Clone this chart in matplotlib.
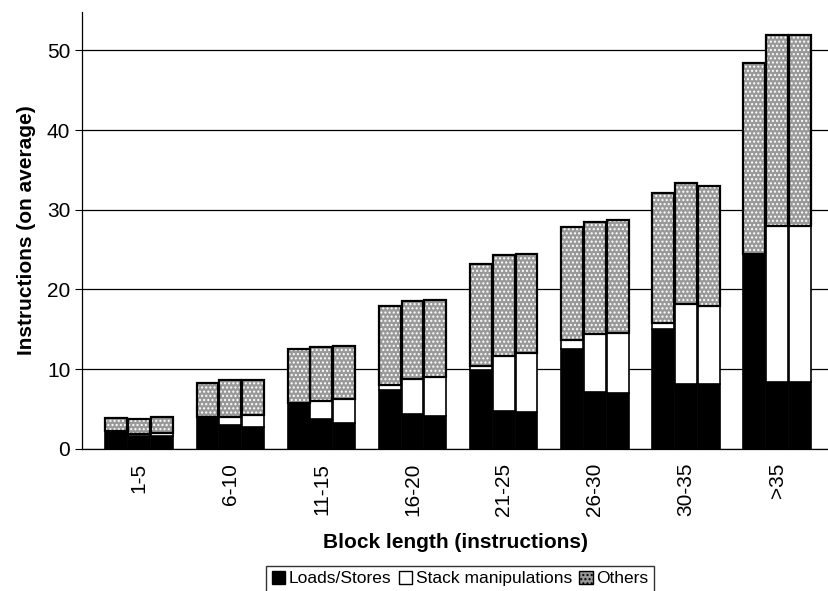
import matplotlib
matplotlib.use('Agg')
import matplotlib.pyplot as plt
from matplotlib.patches import Patch
import numpy as np

plt.rcParams.update({'font.family': ['Liberation Sans', 'DejaVu Sans']})

# block-length categories, three bars per category
categories = ['1-5', '6-10', '11-15', '16-20', '21-25', '26-30', '30-35', '>35']

loads = [[2.2, 1.6, 1.6], [4.0, 3.0, 2.8], [5.8, 3.7, 3.3], [7.4, 4.4, 4.1],
         [9.9, 4.8, 4.7], [12.5, 7.2, 7.0], [15.0, 8.2, 8.2], [24.5, 8.4, 8.4]]
stack = [[0.0, 0.3, 0.4], [0.0, 1.0, 1.5], [0.0, 2.3, 3.0], [0.6, 4.4, 4.9],
         [0.5, 6.8, 7.3], [1.2, 7.2, 7.6], [0.8, 10.0, 9.7], [0.0, 19.6, 19.6]]
others = [[1.7, 1.9, 2.0], [4.3, 4.6, 4.4], [6.8, 6.8, 6.6], [9.9, 9.7, 9.7],
          [12.8, 12.7, 12.5], [14.2, 14.1, 14.1], [16.3, 15.2, 15.1], [23.9, 23.9, 23.9]]

loads = np.array(loads)
stack = np.array(stack)
others = np.array(others)

GREY = '#999999'
fig = plt.figure(figsize=(8.29, 5.91), dpi=100)
ax = fig.add_axes([0.099, 0.2403, 0.901, 0.7394])

x = np.arange(len(categories))
width = 0.24
offsets = [-0.25, 0.0, 0.25]

for j, off in enumerate(offsets):
    xs = x + off
    ax.bar(xs, loads[:, j], width, color='black', edgecolor='black', lw=1.2, zorder=3)
    ax.bar(xs, stack[:, j], width, bottom=loads[:, j], color='white',
           edgecolor='black', lw=1.2, zorder=3)
    base = loads[:, j] + stack[:, j]
    # stippled grey: grey face with white dot hatch, then a black outline on top
    ax.bar(xs, others[:, j], width, bottom=base, color=GREY, edgecolor='white',
           hatch='....', lw=0, zorder=3)
    ax.bar(xs, others[:, j], width, bottom=base, fill=False,
           edgecolor='black', lw=1.6, zorder=4)

ax.set_xlim(-0.626, 7.57)
ax.set_ylim(0, 54.8)
ax.set_yticks([0, 10, 20, 30, 40, 50])
ax.yaxis.grid(True, color='black', lw=0.9)
ax.set_axisbelow(True)
for s in ('top', 'right'):
    ax.spines[s].set_visible(False)
ax.spines['left'].set_linewidth(0.9)
ax.spines['bottom'].set_linewidth(0.9)

ax.set_xticks(x)
ax.set_xticklabels(categories, rotation=90, fontsize=15)
ax.tick_params(axis='x', length=0, pad=10)
ax.tick_params(axis='y', labelsize=15, length=5, direction='out')

ax.set_xlabel('Block length (instructions)', fontsize=15, fontweight='bold', labelpad=12)
ax.set_ylabel('Instructions (on average)', fontsize=15, fontweight='bold', labelpad=8)

handles = [Patch(facecolor='black', edgecolor='black'),
           Patch(facecolor='white', edgecolor='black'),
           Patch(facecolor=GREY, edgecolor='black', hatch='....')]
fig.legend(handles, ['Loads/Stores', 'Stack manipulations', 'Others'],
           loc='upper center', bbox_to_anchor=(0.555, 0.043), ncol=3,
           fontsize=12.5, frameon=True, fancybox=False, edgecolor='black',
           handlelength=0.8, handleheight=0.8, handletextpad=0.2,
           columnspacing=0.4, borderpad=0.3, borderaxespad=0)

fig.savefig('out.png', dpi=100, facecolor='white')
